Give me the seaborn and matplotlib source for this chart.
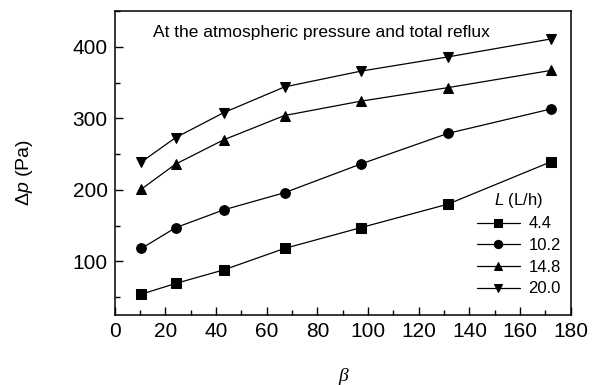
import matplotlib
matplotlib.use("Agg")
import matplotlib.pyplot as plt
import seaborn as sns
import pandas as pd
from matplotlib.ticker import MultipleLocator

beta = [10.5, 24, 43, 67, 97, 131.5, 172]
flows = ["4.4", "10.2", "14.8", "20.0"]
dp_44 = [54, 69, 88, 118, 147, 180, 239]
dp_102 = [118, 147, 172, 196, 236, 279, 313]
dp_148 = [201, 236, 270, 304, 324, 343, 367]
dp_200 = [239, 273, 308, 344, 366, 386, 411]
marker_list = ["s", "o", "^", "v"]

sns.set_style("ticks", {"text.color": "black", "axes.labelcolor": "black",
                        "xtick.color": "black", "ytick.color": "black",
                        "axes.edgecolor": "black"})
plt.rcParams['font.family'] = ['Liberation Sans', 'DejaVu Sans']
plt.rcParams['mathtext.fontset'] = 'custom'
plt.rcParams['mathtext.rm'] = 'Liberation Sans'
plt.rcParams['mathtext.it'] = 'Liberation Sans:italic'

fig = plt.figure(figsize=(6.04, 3.85), dpi=100)
ax = fig.add_axes([0.19, 0.182, 0.755, 0.789])

series = [dp_44, dp_102, dp_148, dp_200]
for lab, vals, mk in zip(flows, series, marker_list):
    df = pd.DataFrame({"beta": beta, "dp": vals})
    sns.lineplot(data=df, x="beta", y="dp", ax=ax, color="black", lw=0.9,
                 marker=mk, markersize=7.5 if mk in "^v" else 7,
                 markeredgecolor="black", label=lab)

ax.set_xlim(0, 180)
ax.set_ylim(25, 450)
ax.xaxis.set_major_locator(MultipleLocator(20))
ax.xaxis.set_minor_locator(MultipleLocator(10))
ax.yaxis.set_major_locator(MultipleLocator(100))
ax.yaxis.set_minor_locator(MultipleLocator(50))
ax.tick_params(which="both", direction="in", top=False, right=False,
               labelsize=15, width=1, pad=5)
ax.tick_params(which="major", length=6)
ax.tick_params(which="minor", length=3.5)
for sp in ax.spines.values():
    sp.set_linewidth(1.1)

ax.set_xlabel("β", fontsize=14, style="italic", family="Liberation Serif")
ax.xaxis.set_label_coords(0.5, -0.175)
ax.set_ylabel("Δ$p$ (Pa)", fontsize=14)
ax.yaxis.set_label_coords(-0.175, 0.47)

ax.text(15, 0.914, "At the atmospheric pressure and total reflux",
        transform=ax.get_xaxis_transform(), fontsize=12.5, va="baseline")

leg = ax.legend(title="$L$ (L/h)", loc="lower right", frameon=False,
                fontsize=12, title_fontsize=12, handlelength=2.6,
                labelspacing=0.4, borderaxespad=0.2, handletextpad=0.5,
                markerscale=0.85, bbox_to_anchor=(1.0, 0.028))

fig.savefig("out.png", dpi=100)
